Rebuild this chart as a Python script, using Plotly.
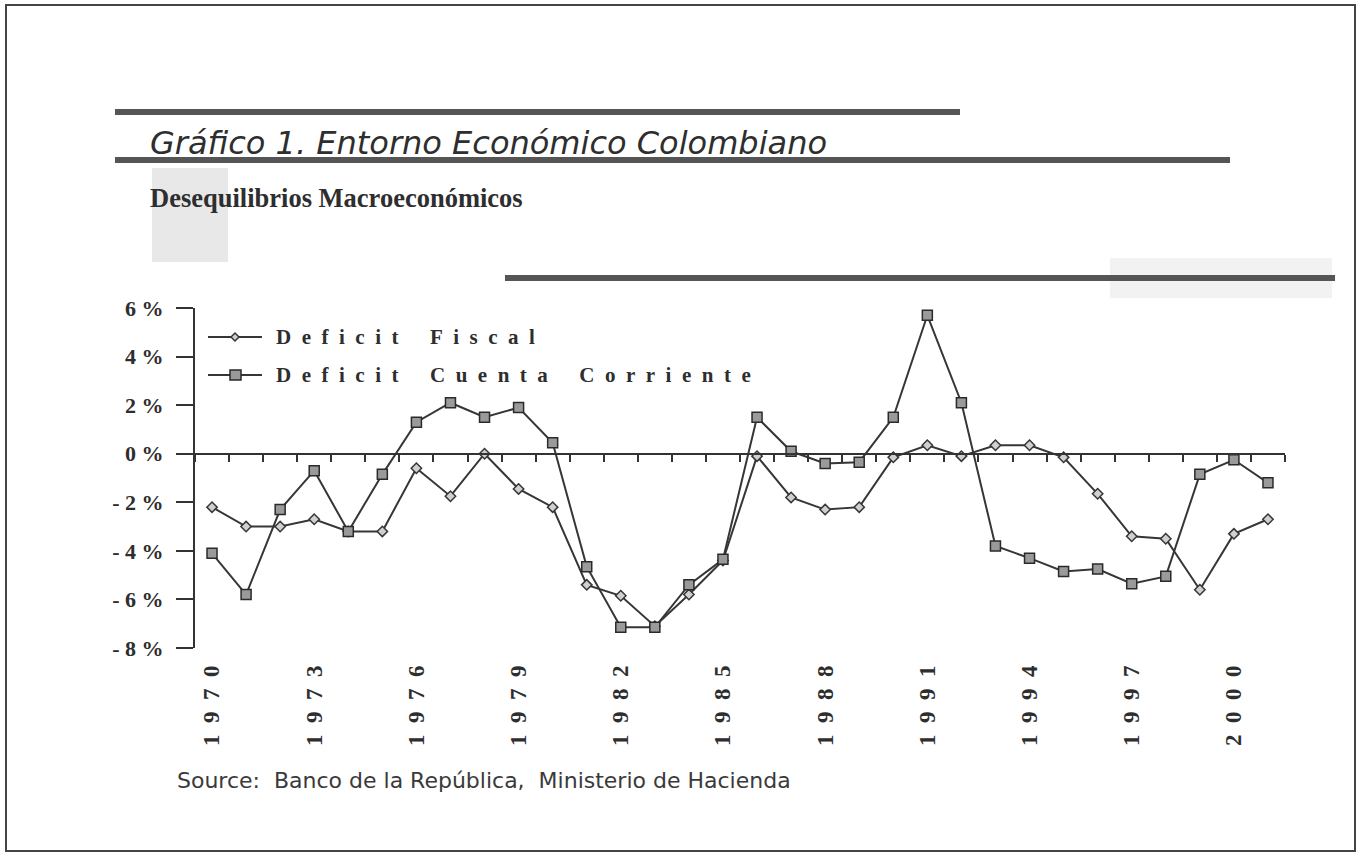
import plotly.graph_objects as go

# ---------------- data ----------------
years = list(range(1970, 2002))
deficit_fiscal = [-2.2, -3.0, -3.0, -2.7, -3.2, -3.2, -0.6, -1.75, 0.0, -1.45,
                  -2.2, -5.4, -5.85, -7.1, -5.8, -4.4, -0.1, -1.8, -2.3, -2.2,
                  -0.15, 0.35, -0.1, 0.35, 0.35, -0.15, -1.65, -3.4, -3.5, -5.6,
                  -3.3, -2.7]
deficit_cuenta = [-4.1, -5.8, -2.3, -0.7, -3.2, -0.85, 1.3, 2.1, 1.5, 1.9,
                  0.45, -4.65, -7.15, -7.15, -5.4, -4.35, 1.5, 0.1, -0.4, -0.35,
                  1.5, 5.7, 2.1, -3.8, -4.3, -4.85, -4.75, -5.35, -5.05, -0.85,
                  -0.25, -1.2]
series_names = ["Deficit Fiscal", "Deficit Cuenta Corriente"]
y_ticks = [-8, -6, -4, -2, 0, 2, 4, 6]
y_ticktext = ["- 8 %", "- 6 %", "- 4 %", "- 2 %", "0 %", "2 %", "4 %", "6 %"]
x_tickvals = list(range(1970, 2001, 3))
title_text = "Gráfico 1. Entorno Económico Colombiano"
subtitle_text = "Desequilibrios Macroeconómicos"
source_text = "Source:  Banco de la República,  Ministerio de Hacienda"

# ---------------- layout geometry ----------------
W, H = 1361, 858
L, R, T, B = 195, 1285, 308, 648
INK = "#2e2e2e"
SERIF = "Liberation Serif, Times New Roman, serif"
SANS = "DejaVu Sans, Arial, sans-serif"


def px(xp):
    return (xp - L) / (R - L)


def py(yp):
    return (B - yp) / (B - T)


def spaced(s, gap="\u2002", word="\u2002\u2002\u2002"):
    return word.join(gap.join(list(w)) for w in s.split(" "))


fig = go.Figure()

fig.add_trace(go.Scatter(
    x=years, y=deficit_fiscal, mode="lines+markers", name=series_names[0],
    line=dict(color="#363636", width=2),
    marker=dict(symbol="diamond", size=8, color="#d0d0d0",
                line=dict(color="#363636", width=1.5)),
    showlegend=False))
fig.add_trace(go.Scatter(
    x=years, y=deficit_cuenta, mode="lines+markers", name=series_names[1],
    line=dict(color="#363636", width=2),
    marker=dict(symbol="square", size=10, color="#9a9a9a",
                line=dict(color="#2a2a2a", width=1.5)),
    showlegend=False))
# dummy trace to carry the zero-line axis
fig.add_trace(go.Scatter(x=[years[0]], y=[None], xaxis="x2", showlegend=False,
                         hoverinfo="skip"))

xr = [years[0] - 0.5, years[-1] + 0.5]

fig.update_layout(
    width=W, height=H,
    margin=dict(l=L, r=W - R, t=T, b=H - B),
    paper_bgcolor="white", plot_bgcolor="white",
    xaxis=dict(range=xr, showgrid=False, zeroline=False, showline=False,
               ticks="", tickvals=x_tickvals,
               ticktext=["<b>" + spaced(str(v)) + "</b>" for v in x_tickvals],
               tickangle=-90, ticklabelstandoff=12,
               tickfont=dict(family=SERIF, size=23, color=INK)),
    xaxis2=dict(range=xr, overlaying="x", anchor="free",
                position=(0 - y_ticks[0]) / (y_ticks[-1] - y_ticks[0]),
                showgrid=False, zeroline=False, showline=True,
                linecolor="#333333", linewidth=2,
                ticks="outside", ticklen=7, tickwidth=2, tickcolor="#333333",
                tick0=years[0] + 0.5, dtick=1, showticklabels=False),
    yaxis=dict(range=[y_ticks[0], y_ticks[-1]], showgrid=False, zeroline=False,
               showline=True, linecolor="#333333", linewidth=2,
               ticks="outside", ticklen=17, tickwidth=2, tickcolor="#333333",
               tickvals=y_ticks, ticktext=["<b>" + t + "</b>" for t in y_ticktext],
               ticklabelstandoff=8,
               tickfont=dict(family=SERIF, size=22, color=INK)),
    showlegend=False,
)

shapes = []
# page frame
shapes.append(dict(type="rect", xref="paper", yref="paper",
                   x0=px(6), x1=px(1355), y0=py(851), y1=py(5),
                   line=dict(color="#444444", width=2)))
# decorative bars
for (x0, x1, yy) in [(115, 960, 112), (115, 1230, 160), (505, 1335, 278)]:
    shapes.append(dict(type="line", xref="paper", yref="paper",
                       x0=px(x0), x1=px(x1), y0=py(yy), y1=py(yy),
                       line=dict(color="#555555", width=6)))
# faint textured blocks
shapes.append(dict(type="rect", xref="paper", yref="paper",
                   x0=px(152), x1=px(228), y0=py(262), y1=py(168),
                   fillcolor="#e8e8e8", line=dict(width=0), layer="below"))
shapes.append(dict(type="rect", xref="paper", yref="paper",
                   x0=px(1110), x1=px(1332), y0=py(298), y1=py(258),
                   fillcolor="#f2f2f2", line=dict(width=0), layer="below"))
# legend lines
for yy in (337, 375):
    shapes.append(dict(type="line", xref="paper", yref="paper",
                       x0=px(208), x1=px(262), y0=py(yy), y1=py(yy),
                       line=dict(color="#363636", width=2)))
# legend symbols
shapes.append(dict(type="path", xref="paper", yref="paper",
                   path="M {} {} L {} {} L {} {} L {} {} Z".format(
                       px(231), py(337), px(235), py(333),
                       px(239), py(337), px(235), py(341)),
                   fillcolor="#d0d0d0", line=dict(color="#363636", width=1.5)))
shapes.append(dict(type="rect", xref="paper", yref="paper",
                   x0=px(230), x1=px(241), y0=py(380), y1=py(370),
                   fillcolor="#9a9a9a", line=dict(color="#2a2a2a", width=1.5)))

annotations = [
    dict(text=title_text, xref="paper", yref="paper", x=px(148), y=py(143),
         xanchor="left", yanchor="middle", showarrow=False,
         font=dict(family=SANS, size=32, color=INK, style="italic")),
    dict(text="<b>" + subtitle_text + "</b>", xref="paper", yref="paper",
         x=px(148), y=py(198), xanchor="left", yanchor="middle", showarrow=False,
         font=dict(family=SERIF, size=26.5, color=INK)),
    dict(text="<b>" + spaced(series_names[0]) + "</b>", xref="paper", yref="paper",
         x=px(274), y=py(337), xanchor="left", yanchor="middle", showarrow=False,
         font=dict(family=SERIF, size=21, color=INK)),
    dict(text="<b>" + spaced(series_names[1]) + "</b>", xref="paper", yref="paper",
         x=px(274), y=py(375), xanchor="left", yanchor="middle", showarrow=False,
         font=dict(family=SERIF, size=21, color=INK)),
    dict(text=source_text, xref="paper", yref="paper", x=px(175), y=py(780),
         xanchor="left", yanchor="middle", showarrow=False,
         font=dict(family=SANS, size=22, color="#3a3a3a")),
]

fig.update_layout(shapes=shapes, annotations=annotations)
fig.write_html("out.html")
